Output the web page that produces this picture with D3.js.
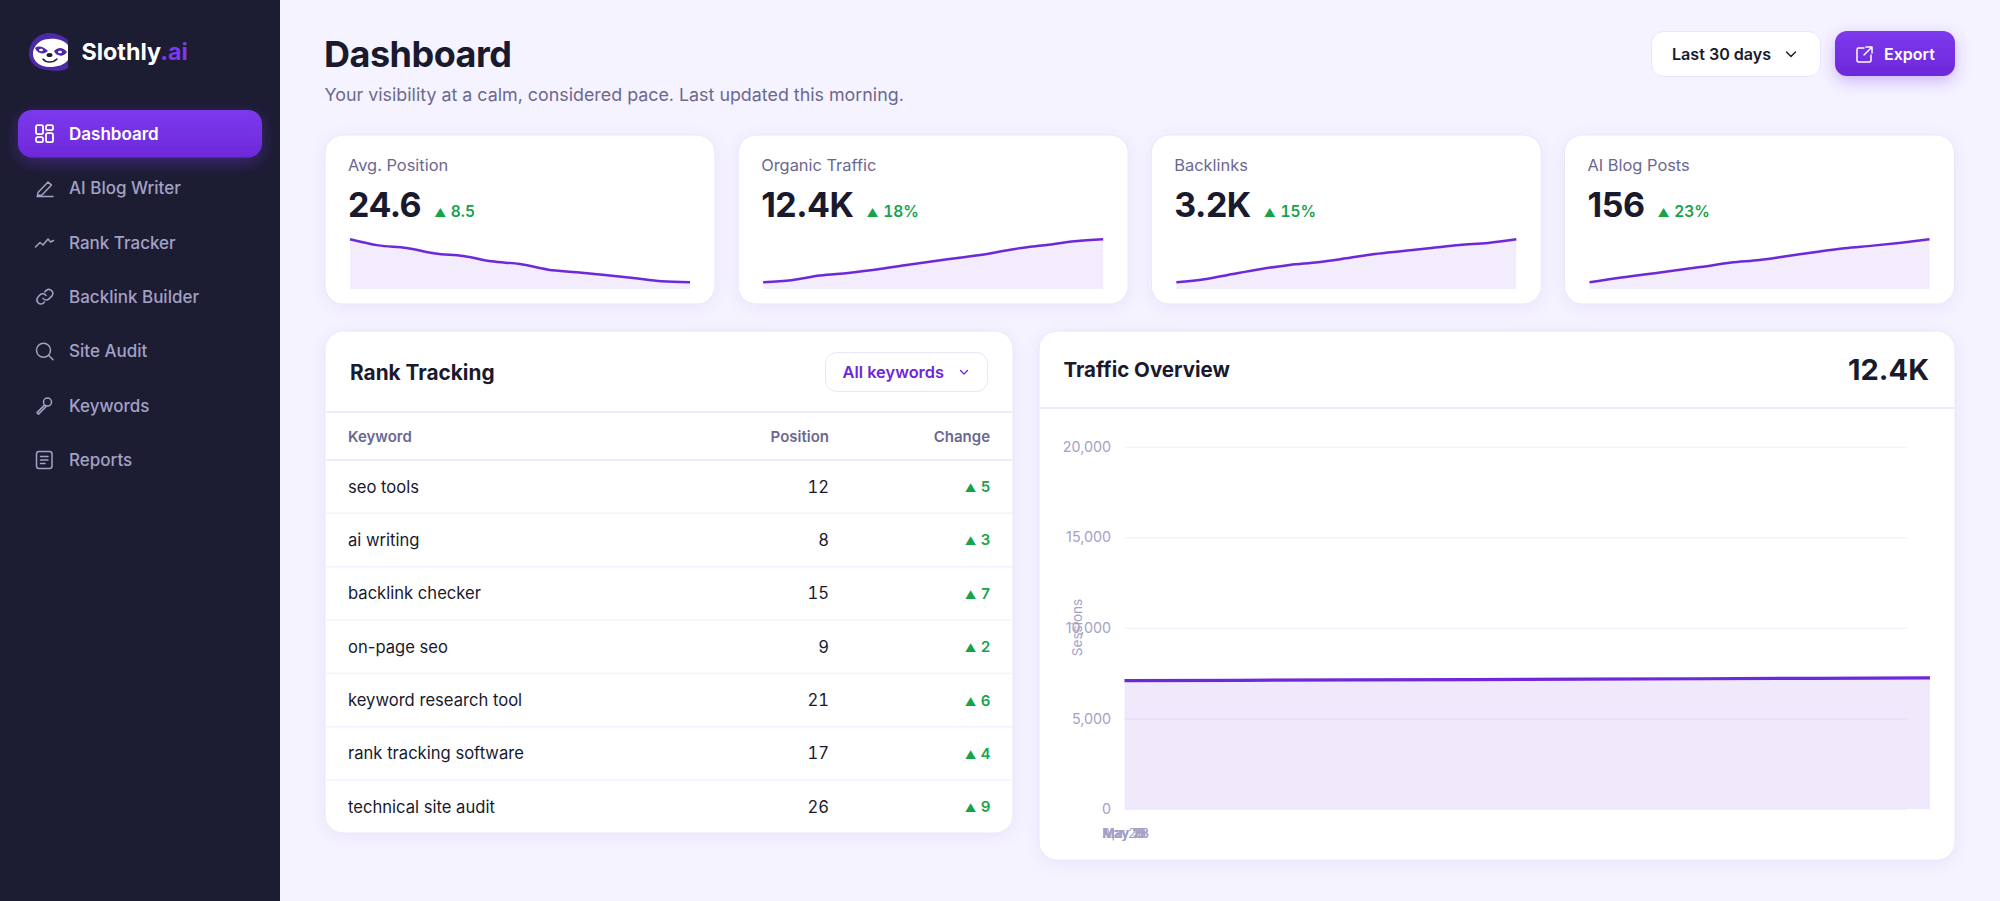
<!DOCTYPE html>
<html>
<head>
<meta charset="utf-8">
<script src="https://cdn.jsdelivr.net/npm/d3@7"></script>
<style>
    html, body { margin: 0; padding: 0; background: #f5f3ff; overflow: hidden; }
    svg { display: block; }
    text { font-family: Inter, "Noto Sans", sans-serif; }
    .icon { fill: none; stroke-linecap: round; stroke-linejoin: round; }
    .tnum { font-feature-settings: "tnum"; font-variant-numeric: tabular-nums; }
</style>
</head>
<body>
<svg id="page" width="2000" height="901">
    <defs>
        <linearGradient id="btn" x1="0" y1="0" x2="0" y2="1">
            <stop offset="0" stop-color="#7c3aed"></stop>
            <stop offset="1" stop-color="#6d28d9"></stop>
        </linearGradient>
        <filter id="glow" x="-20%" y="-60%" width="140%" height="220%">
            <feDropShadow dx="0" dy="5" stdDeviation="8" flood-color="#7c3aed" flood-opacity="0.35"></feDropShadow>
        </filter>
        <filter id="cardShadow" x="-5%" y="-10%" width="110%" height="125%">
            <feDropShadow dx="0" dy="3" stdDeviation="8" flood-color="#6d28d9" flood-opacity="0.07"></feDropShadow>
        </filter>
    </defs>
</svg>
<script>
    // ---- data ----
    const navLabels = ['Dashboard', 'AI Blog Writer', 'Rank Tracker', 'Backlink Builder', 'Site Audit', 'Keywords', 'Reports'];

    const statLabels = ['Avg. Position', 'Organic Traffic', 'Backlinks', 'AI Blog Posts'];
    const statValues = ['24.6', '12.4K', '3.2K', '156'];
    const statDeltas = ['8.5', '18%', '15%', '23%'];

    const positionSeries = [33.1, 31.9, 31.4, 30.3, 29.8, 28.75, 28.2, 27.1, 26.6, 26.05, 25.45, 24.8, 24.6];
    const trafficSeries = [10000, 10112, 10375, 10525, 10712, 10956, 11181, 11388, 11612, 11894, 12081, 12287, 12400];
    const backlinkSeries = [2700, 2735, 2797, 2855, 2902, 2933, 2979, 3029, 3064, 3099, 3134, 3157, 3200];
    const postSeries = [120, 123.6, 126.7, 129.8, 133.1, 136.5, 138.7, 142, 145.4, 148.5, 150.7, 153.2, 156];
    const sparkSeries = [positionSeries, trafficSeries, backlinkSeries, postSeries];

    const keywords = ['seo tools', 'ai writing', 'backlink checker', 'on-page seo', 'keyword research tool', 'rank tracking software', 'technical site audit'];
    const positions = [12, 8, 15, 9, 21, 17, 26];
    const changes = [5, 3, 7, 2, 6, 4, 9];

    const overviewDates = ['Apr 29', 'May 3', 'May 7', 'May 11', 'May 15', 'May 19', 'May 23', 'May 28'];
    const overviewSessions = [7085, 7105, 7125, 7145, 7170, 7190, 7215, 7235];
    const sessionTicks = [0, 5000, 10000, 15000, 20000];

    // ---- helpers ----
    const page = d3.select('#page');
    const ink = '#1a1a2e', muted = '#6b6890', violet = '#6d28d9', green = '#16a34a', hair = '#e9e5fa';

    function label(parent, x, y, str, size, weight, color, anchor) {
        return parent.append('text')
            .attr('x', x).attr('y', y)
            .attr('dy', '0.36em')
            .attr('font-size', size)
            .attr('font-weight', weight)
            .attr('fill', color)
            .attr('text-anchor', anchor || 'start')
            .text(str);
    }

    // green up-arrow + number, the arrow is a lot smaller than the digits
    function delta(x, y, str, size, anchor) {
        const t = label(page, x, y + size * 0.36, '', size, 600, green, anchor)
            .attr('dy', null).attr('class', 'tnum');
        t.append('tspan').attr('font-size', size * 0.75).text('▲');
        t.append('tspan').attr('dx', size * 0.3).text(str);
        return t;
    }

    function card(x, y, w, h, r) {
        return page.append('rect')
            .attr('x', x).attr('y', y).attr('width', w).attr('height', h).attr('rx', r)
            .attr('fill', '#fff').attr('stroke', hair).attr('stroke-width', 1)
            .attr('filter', 'url(#cardShadow)');
    }

    function rule(x1, x2, y, color) {
        page.append('line').attr('x1', x1).attr('x2', x2).attr('y1', y).attr('y2', y)
            .attr('stroke', color || hair).attr('stroke-width', 1.5);
    }

    // ---- sidebar ----
    page.append('rect').attr('width', 280).attr('height', 901).attr('fill', '#1c1c33');

    const logo = page.append('g').attr('transform', 'translate(29,33)');
    logo.append('path').attr('fill', '#4c2aa6')
        .attr('d', 'M0 19C1 8 9 1 19 0C28 0 34 3 39 7L39 35C33 39 25 38 18 37C7 36 -1 29 0 19Z');
    logo.append('path').attr('fill', '#fff')
        .attr('d', 'M4 19C6 10 13 6 20 6C28 5 36 8 39 12V27C35 32 28 34 21 34C11 34 3 28 4 19Z');
    logo.append('path').attr('fill', '#4c2aa6').attr('d', 'M6 15C10 12 15 14 19 18C15 22 8 21 6 15Z');
    logo.append('path').attr('fill', '#4c2aa6').attr('d', 'M38 19C34 14 29 14 25 18C27 23 34 25 38 19Z');
    logo.append('ellipse').attr('cx', 12).attr('cy', 17).attr('rx', 2).attr('ry', 1.2).attr('fill', '#fff');
    logo.append('ellipse').attr('cx', 31).attr('cy', 19).attr('rx', 2).attr('ry', 1.2).attr('fill', '#fff');
    logo.append('ellipse').attr('cx', 20.5).attr('cy', 22).attr('rx', 3).attr('ry', 2.1).attr('fill', '#1c1c33');
    logo.append('path').attr('fill', 'none').attr('stroke', '#1c1c33').attr('stroke-width', 1.4).attr('stroke-linecap', 'round')
        .attr('d', 'M14 26C17 30 24 30 28 26');

    const brand = label(page, 81.5, 52, 'Slothly', 23.3, 700, '#fff');
    brand.append('tspan').attr('fill', '#7c3aed').text('.ai');

    page.append('rect').attr('x', 18).attr('y', 110).attr('width', 244).attr('height', 47.5).attr('rx', 14)
        .attr('fill', 'url(#btn)').attr('filter', 'url(#glow)');

    const navIcons = [
        '<rect x="1" y="1" width="7" height="9" rx="1.6"/><rect x="11" y="1" width="7" height="5" rx="1.6"/><rect x="11" y="9" width="7" height="9" rx="1.6"/><rect x="1" y="13" width="7" height="5" rx="1.6"/>',
        '<path d="M2 18H18"/><path d="M3 14L13 3.5L16.5 6.5L7 16.5L2.5 17Z"/>',
        '<path d="M0.5 14L5 9.5L8 12L13 6L15.5 9L18.5 7.5"/>',
        '<path d="M8 11A4 4 0 0 0 14 11.5L17 8.5A4 4 0 0 0 11.3 3L9.8 4.5"/><path d="M11 8A4 4 0 0 0 5 7.5L2.5 10.5A4 4 0 0 0 8 16L9.4 14.6"/>',
        '<circle cx="8.5" cy="8.5" r="7"/><path d="M13.5 13.5L18 18"/>',
        '<circle cx="12.5" cy="6" r="4"/><path d="M9.5 9L2 16.5L3.5 18L11 10.5"/>',
        '<rect x="1.5" y="1" width="15.5" height="17" rx="2.5"/><path d="M5.5 6H13M5.5 9.5H13M5.5 13H10"/>'
    ];
    const navY = d3.scaleLinear().domain([0, 6]).range([133.7, 460]);
    navLabels.forEach(function (d, i) {
        const on = i == 0;
        label(page, 69, navY(i), d, 17, on ? 600 : 500, on ? '#fff' : '#a3a1c4');
        page.append('g').attr('class', 'icon')
            .attr('transform', `translate(35,${navY(i) - 9.5})`)
            .attr('stroke', on ? '#fff' : '#a3a1c4').attr('stroke-width', on ? 1.8 : 1.5)
            .html(navIcons[i]);
    });

    // ---- header ----
    label(page, 324, 54, 'Dashboard', 36, 700, ink).attr('letter-spacing', '-0.5px');
    label(page, 324.5, 94.5, 'Your visibility at a calm, considered pace. Last updated this morning.', 17.85, 400, muted);

    page.append('rect').attr('x', 1651.5).attr('y', 31.5).attr('width', 169).attr('height', 45).attr('rx', 12)
        .attr('fill', '#fff').attr('stroke', hair);
    label(page, 1672, 54, 'Last 30 days', 16.1, 600, ink);
    page.append('path').attr('class', 'icon').attr('stroke', ink).attr('stroke-width', 1.4)
        .attr('d', 'M1786.5 52L1791 56.5L1795.5 52');

    page.append('rect').attr('x', 1835).attr('y', 31).attr('width', 120).attr('height', 45).attr('rx', 12)
        .attr('fill', 'url(#btn)').attr('filter', 'url(#glow)');
    page.append('path').attr('class', 'icon').attr('stroke', '#fff').attr('stroke-width', 1.5)
        .attr('d', 'M1864 48H1858.5A1.5 1.5 0 0 0 1857 49.5V60.5A1.5 1.5 0 0 0 1858.5 62H1869.5A1.5 1.5 0 0 0 1871 60.5V55M1866 47H1872V53M1872 47L1864 55');
    label(page, 1884, 54, 'Export', 16, 600, '#fff');

    // ---- stat cards ----
    const cardX = d3.scaleLinear().domain([0, 3]).range([325, 1564.5]);
    const cardW = 390;
    const line = d3.line().x(d => d.x).y(d => d.y).curve(d3.curveMonotoneX);
    const area = d3.area().x(d => d.x).y1(d => d.y).curve(d3.curveMonotoneX);

    statLabels.forEach(function (d, i) {
        const x0 = cardX(i);
        card(x0, 135, cardW, 169, 18);
        label(page, x0 + 23, 165, d, 16.4, 400, muted);
        const big = label(page, x0 + 23, 204.5, statValues[i], 34, 700, ink).attr('letter-spacing', '-0.5px');
        const w = big.node().getComputedTextLength();
        delta(x0 + 23 + w + 13, 211, statDeltas[i], 15.5);

        const sx = d3.scaleLinear().domain([0, sparkSeries[i].length - 1]).range([x0 + 25, x0 + 365]);
        const sy = d3.scaleLinear().domain(d3.extent(sparkSeries[i])).range([282.3, 239.3]);
        const pts = sparkSeries[i].map((v, j) => ({ x: sx(j), y: sy(v) }));
        page.append('path').attr('d', area.y0(289)(pts)).attr('fill', '#f3ecfc');
        page.append('path').attr('d', line(pts)).attr('fill', 'none').attr('stroke', violet).attr('stroke-width', 2.5);
    });

    // ---- rank table ----
    card(325, 331, 688, 502, 18);
    label(page, 350, 372.5, 'Rank Tracking', 20.8, 700, ink);
    page.append('rect').attr('x', 825.5).attr('y', 352.5).attr('width', 162).attr('height', 39).attr('rx', 11)
        .attr('fill', '#fff').attr('stroke', hair);
    label(page, 842.5, 372, 'All keywords', 16.4, 600, violet);
    page.append('path').attr('class', 'icon').attr('stroke', violet).attr('stroke-width', 1.3)
        .attr('d', 'M960.5 370.5L964 374L967.5 370.5');
    rule(326, 1012, 412);

    label(page, 348, 437, 'Keyword', 15, 600, muted);
    label(page, 829, 437, 'Position', 15, 600, muted, 'end');
    label(page, 990, 437, 'Change', 15, 600, muted, 'end');
    rule(326, 1012, 460);

    const rowY = d3.scaleBand().domain(keywords).range([460, 833.5]);
    keywords.forEach(function (d, i) {
        const y = rowY(d) + rowY.bandwidth() / 2;
        label(page, 348, y, d, 16.6, 400, ink);
        label(page, 829, y, positions[i], 16.6, 400, ink, 'end').attr('class', 'tnum');
        delta(990.5, y, changes[i], 15, 'end');
        if (i < keywords.length - 1) rule(326, 1012, rowY(d) + rowY.bandwidth(), '#f4f2fd');
    });

    // ---- traffic overview ----
    card(1039, 331, 916, 529, 18);
    label(page, 1063.5, 370, 'Traffic Overview', 20.5, 700, ink);
    label(page, 1929, 370, '12.4K', 29, 700, ink, 'end');
    rule(1040, 1955, 408);

    const y = d3.scaleLinear().domain([0, 20000]).range([809, 446.7]);
    const x = d3.scalePoint().domain(overviewDates).range([1124.5, 1930]);
    const gridEnd = 1907;

    // the tick labels all sit on one spot in the reference
    const xStacked = d3.scalePoint().domain(overviewDates).range([1102, 1102]);

    const grid = page.append('g').attr('transform', 'translate(1125,0)')
        .call(d3.axisRight(y).tickValues(sessionTicks).tickSize(gridEnd - 1125).tickFormat(''));
    grid.select('.domain').remove();
    grid.selectAll('line').attr('stroke', '#f3f1fd').attr('stroke-width', 1.5);

    const overview = overviewDates.map((d, i) => ({ d: d, v: overviewSessions[i] }));
    page.append('path')
        .datum(overview)
        .attr('fill', 'rgba(109,40,217,0.1)')
        .attr('d', d3.area().x(d => x(d.d)).y0(y(0)).y1(d => y(d.v)));
    page.append('path')
        .datum(overview)
        .attr('fill', 'none').attr('stroke', violet).attr('stroke-width', 3.2)
        .attr('d', d3.line().x(d => x(d.d)).y(d => y(d.v)));

    const yAxis = page.append('g').attr('transform', 'translate(1125,0)')
        .call(d3.axisLeft(y).tickValues(sessionTicks).tickSize(0).tickPadding(14).tickFormat(d3.format(',')));
    yAxis.select('.domain').remove();
    yAxis.selectAll('text').attr('font-size', 14.3).attr('fill', '#a5a1c5').attr('font-family', 'Inter').attr('dy', '0.32em');

    const xAxis = page.append('g').attr('transform', 'translate(0,826)')
        .call(d3.axisBottom(xStacked).tickSize(0).tickPadding(3));
    xAxis.select('.domain').remove();
    xAxis.selectAll('text').attr('font-size', 13.2).attr('fill', '#a5a1c5').attr('text-anchor', 'start').attr('font-family', 'Inter');

    page.append('text')
        .attr('transform', 'translate(1077,627.5) rotate(-90)')
        .attr('text-anchor', 'middle').attr('dy', '0.36em')
        .attr('font-size', 13.5).attr('fill', '#a5a1c5')
        .text('Sessions');
</script>
</body>
</html>
